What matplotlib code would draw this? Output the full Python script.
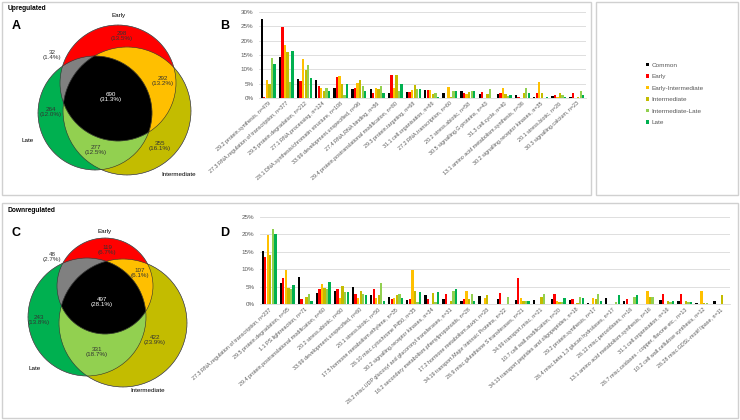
import numpy as np
import matplotlib
matplotlib.use('Agg')
import matplotlib.pyplot as plt
from matplotlib.patches import Circle, Rectangle
from matplotlib.colors import to_rgba
from matplotlib.ticker import FuncFormatter

plt.rcParams['font.family'] = ['Liberation Sans', 'DejaVu Sans']

# ---------------- data ----------------
series_names = ['Common', 'Early', 'Early-Intermediate', 'Intermediate', 'Intermediate-Late', 'Late']
series_colors = ['#000000', '#FF0000', '#FFC000', '#C4BC00', '#92D050', '#00B050']

up_categories = [
    '29.2 protein.synthesis, n=479', '27.3 RNA.regulation of transcription, n=377',
    '29.5 protein.degradation, n=212', '27.1 RNA.processing, n=124',
    '28.1 DNA.synthesis/chromatin structure, n=108', '33.99 development.unspecified, n=96',
    '27.4 RNA.RNA binding, n=86', '29.4 protein.postranslational modification, n=80',
    '29.3 protein.targeting, n=68', '31.1 cell.organisation, n=66',
    '27.2 RNA.transcription, n=60', '20.2 stress.abiotic, n=58',
    '30.5 signalling.G-proteins, n=43', '31.3 cell.cycle, n=40',
    '13.1 amino acid metabolism.synthesis, n=36', '30.2 signalling.receptor kinases, n=35',
    '20.1 stress.biotic, n=26', '30.3 signalling.calcium, n=23']
up_common = [27.7, 14.2, 6.6, 6.2, 3.6, 3.1, 3.3, 1.6, 2.2, 2.8, 1.9, 2.6, 1.5, 1.3, 1.0, 0.5, 0.8, 0.3]
up_early = [0.5, 24.8, 6.0, 4.3, 7.2, 3.5, 1.9, 7.9, 2.2, 2.9, 0.0, 1.9, 2.2, 1.8, 0.5, 1.8, 1.2, 1.9]
up_early_int = [6.4, 18.4, 13.7, 3.5, 7.8, 5.2, 3.6, 3.6, 2.9, 2.8, 3.8, 1.5, 0.0, 3.6, 0.0, 5.5, 0.3, 0.0]
up_int = [5.0, 15.9, 9.9, 2.6, 5.0, 6.3, 3.0, 7.9, 4.7, 1.5, 0.3, 2.0, 1.5, 1.5, 1.8, 1.9, 1.9, 0.3]
up_int_late = [14.0, 5.5, 11.5, 3.6, 1.2, 4.3, 4.3, 2.3, 3.1, 1.8, 2.4, 2.4, 3.2, 0.6, 3.6, 0.0, 0.9, 2.4]
up_late = [11.9, 16.3, 6.9, 2.6, 5.0, 2.6, 1.9, 5.0, 3.0, 0.4, 2.4, 2.4, 0.0, 1.2, 1.8, 0.5, 0.5, 1.2]

down_categories = [
    '27.3 RNA.regulation of transcription, n=237', '29.5 protein.degradation, n=95',
    '1.1 PS.lightreaction, n=71', '29.4 protein.postranslational modification, n=60',
    '20.2 stress.abiotic, n=60', '33.99 development.unspecified, n=60',
    '20.1 stress.biotic, n=50', '17.5 hormone metabolism.ethylene, n=35',
    '26.10 misc.cytochrome P450, n=35', '30.2 signalling.receptor kinases, n=34',
    '26.2 misc.UDP glucosyl and glucoronyl transferases, n=31',
    '16.2 secondary metabolism.phenylpropanoids, n=28', '17.2 hormone metabolism.auxin, n=28',
    '34.19 transport.Major Intrinsic Proteins, n=22', '26.9 misc.glutathione S transferases, n=21',
    '34.99 transport.misc, n=21', '10.7 cell wall.modification, n=20',
    '34.13 transport.peptides and oligopeptides, n=18', '29.2 protein.synthesis, n=17',
    '26.4 misc.beta 1,3 glucan hydrolases, n=17', '26.12 misc.peroxidases, n=16',
    '13.1 amino acid metabolism.synthesis, n=16', '31.1 cell.organisation, n=16',
    '26.7 misc.oxidases - copper, flavone etc., n=13', '10.2 cell wall.cellulose synthesis, n=12',
    '26.28 misc.GDSL-motif lipase, n=11']
down_common = [15.2, 6.2, 7.8, 3.2, 3.8, 4.9, 2.7, 2.0, 1.2, 2.7, 1.6, 0.9, 2.4, 1.6, 1.2, 1.2, 1.5, 1.1, 0.3, 1.7, 0.9, 0.0, 1.2, 0.9, 0.3, 0.9]
down_early = [13.5, 7.6, 1.5, 4.5, 4.5, 3.0, 4.5, 1.5, 1.5, 1.4, 3.0, 1.4, 0.0, 3.1, 7.6, 0.0, 3.0, 1.4, 0.0, 0.0, 1.5, 0.0, 3.0, 3.0, 0.0, 0.0]
down_early_int = [19.7, 9.8, 0.0, 5.9, 1.9, 1.9, 1.9, 1.8, 9.8, 0.0, 0.0, 3.8, 1.8, 0.0, 1.8, 0.0, 0.9, 0.0, 1.9, 0.0, 0.0, 3.8, 0.0, 0.0, 3.8, 0.0]
down_int = [14.2, 4.7, 2.0, 4.7, 5.2, 3.8, 2.7, 2.6, 3.7, 3.1, 0.9, 1.4, 2.6, 0.0, 0.9, 2.0, 0.6, 0.4, 1.6, 0.0, 0.0, 2.0, 0.9, 0.9, 0.3, 2.6]
down_int_late = [21.4, 4.4, 2.9, 4.4, 3.6, 2.8, 6.0, 2.9, 0.7, 0.7, 3.7, 2.8, 0.0, 2.0, 0.8, 2.9, 0.6, 2.0, 2.9, 0.7, 2.0, 2.0, 0.7, 0.7, 0.5, 0.0]
down_late = [20.0, 5.4, 0.9, 6.3, 3.6, 2.7, 0.9, 1.7, 3.5, 3.5, 4.5, 0.9, 0.0, 0.0, 0.9, 0.0, 1.7, 1.8, 0.8, 2.6, 2.6, 0.0, 0.9, 0.7, 0.0, 0.0]

venn_region_names = ['Early', 'Early-Intermediate', 'Intermediate', 'Intermediate-Late', 'Late', 'Early-Late', 'Common']
up_venn_counts = [298, 292, 355, 277, 264, 32, 690]
up_venn_pct = ['13.5%', '13.2%', '16.1%', '12.5%', '12.0%', '1.4%', '31.3%']
down_venn_counts = [119, 107, 422, 331, 243, 48, 497]
down_venn_pct = ['6.7%', '6.1%', '23.9%', '18.7%', '13.8%', '2.7%', '28.1%']

# ---------------- figure ----------------
W, H = 740, 420
fig = plt.figure(figsize=(W / 100, H / 100), dpi=100)
bg = fig.add_axes([0, 0, 1, 1])
bg.set_xlim(0, W)
bg.set_ylim(H, 0)
bg.axis('off')

border = '#D0D0D0'
for (x, y, w, h) in [(2, 2, 589, 193), (596, 2, 142, 193), (2, 203, 736, 215)]:
    bg.add_patch(Rectangle((x, y), w, h, fill=False, ec=border, lw=1.0))

bg.text(8, 8, 'Upregulated', fontsize=4.8, fontweight='bold', va='center', ha='left')
bg.text(8, 211, 'Downregulated', fontsize=4.8, fontweight='bold', va='center', ha='left')
for lab, x, y in [('A', 12, 26), ('B', 220, 26), ('C', 12, 233), ('D', 220, 233)]:
    bg.text(x, y, lab, fontsize=9, fontweight='bold', va='center', ha='left')

region_colors = ['#FF0000', '#FFC000', '#C4BC00', '#92D050', '#00B050', '#808080', '#000000']


def draw_venn(ax, circles, counts, pcts, text_pos, text_colors, name_pos):
    (ex, ey, er), (ix, iy, ir), (lx, ly, lr) = circles
    x0 = min(ex - er, ix - ir, lx - lr) - 2
    x1 = max(ex + er, ix + ir, lx + lr) + 2
    y0 = min(ey - er, iy - ir, ly - lr) - 2
    y1 = max(ey + er, iy + ir, ly + lr) + 2
    res = 5
    xs = np.linspace(x0, x1, int((x1 - x0) * res))
    ys = np.linspace(y0, y1, int((y1 - y0) * res))
    X, Y = np.meshgrid(xs, ys)
    E = (X - ex) ** 2 + (Y - ey) ** 2 <= er ** 2
    I = (X - ix) ** 2 + (Y - iy) ** 2 <= ir ** 2
    L = (X - lx) ** 2 + (Y - ly) ** 2 <= lr ** 2
    masks = [E & ~I & ~L, E & I & ~L, I & ~E & ~L, I & L & ~E, L & ~E & ~I, E & L & ~I, E & I & L]
    img = np.zeros(X.shape + (4,))
    for m, c in zip(masks, region_colors):
        img[m] = to_rgba(c)
    ax.imshow(img, extent=(x0, x1, y1, y0), interpolation='bilinear', zorder=1)
    for (cx, cy, r) in circles:
        ax.add_patch(Circle((cx, cy), r, fill=False, ec='#303030', lw=0.4, zorder=2))
    for cnt, pct, (tx, ty), tc in zip(counts, pcts, text_pos, text_colors):
        ax.text(tx, ty, f'{cnt}\n({pct})', fontsize=4.5, ha='center', va='center',
                color=tc, linespacing=1.15, zorder=3)
    for name, (nx, ny) in zip(['Early', 'Intermediate', 'Late'], name_pos):
        ax.text(nx, ny, name, fontsize=4.5, ha='center', va='center', zorder=3)


draw_venn(bg,
          [(118, 83, 58), (127, 111, 64), (95, 113, 57)],
          up_venn_counts, up_venn_pct,
          [(122, 36), (163, 81), (160, 146), (96, 150), (51, 112), (52, 55), (111, 97)],
          ['#333333', '#333333', '#333333', '#333333', '#333333', '#333333', 'white'],
          [(119, 15), (179, 174), (28, 141)])
draw_venn(bg,
          [(105, 286, 48), (123, 323, 64), (87, 317, 59)],
          down_venn_counts, down_venn_pct,
          [(107, 250), (140, 273), (155, 340), (97, 352), (39, 320), (52, 257), (102, 302)],
          ['#333333', '#333333', '#333333', '#333333', '#333333', '#333333', 'white'],
          [(105, 231), (148, 391), (35, 369)])


def bar_panel(rect, cats, values, ymax):
    ax = fig.add_axes(rect)
    ax.set_facecolor('none')
    n = len(cats)
    xs = np.arange(n)
    bw = 0.14
    handles = []
    for i, (vals, col) in enumerate(zip(values, series_colors)):
        b = ax.bar(xs + (i - 2.5) * bw, np.array(vals) / 100.0, width=bw * 0.92,
                   color=col, zorder=3, linewidth=0)
        handles.append(b)
    ax.set_xlim(-0.5, n - 0.5)
    ax.set_ylim(0, ymax)
    ax.set_yticks(np.arange(0, ymax + 1e-9, 0.05))
    ax.yaxis.set_major_formatter(FuncFormatter(lambda v, p: f'{v * 100:.0f}%'))
    ax.grid(axis='y', color='#D9D9D9', lw=0.6, zorder=0)
    for s in ['top', 'right', 'left']:
        ax.spines[s].set_visible(False)
    ax.spines['bottom'].set_color('#D9D9D9')
    ax.spines['bottom'].set_linewidth(0.6)
    ax.tick_params(axis='y', length=0, labelsize=4.5, labelcolor='#595959', pad=4)
    ax.tick_params(axis='x', length=0, pad=2)
    ax.set_xticks(xs)
    ax.set_xticklabels(cats, rotation=42, ha='right', rotation_mode='anchor',
                       fontsize=3.9, color='#595959')
    return handles


handles = bar_panel([259 / W, 1 - 98 / H, 327 / W, 86 / H], up_categories,
                    [up_common, up_early, up_early_int, up_int, up_int_late, up_late], 0.30)
bar_panel([260 / W, 1 - 304.3 / H, 470 / W, 87.6 / H], down_categories,
          [down_common, down_early, down_early_int, down_int, down_int_late, down_late], 0.25)

fig.legend(handles, series_names, loc='center left', bbox_to_anchor=(640 / W, 1 - 94 / H),
           frameon=False, fontsize=4.6, handlelength=0.5, handleheight=0.5,
           handletextpad=0.4, labelspacing=1.0, labelcolor='#595959')

fig.savefig('out.png', dpi=100)
